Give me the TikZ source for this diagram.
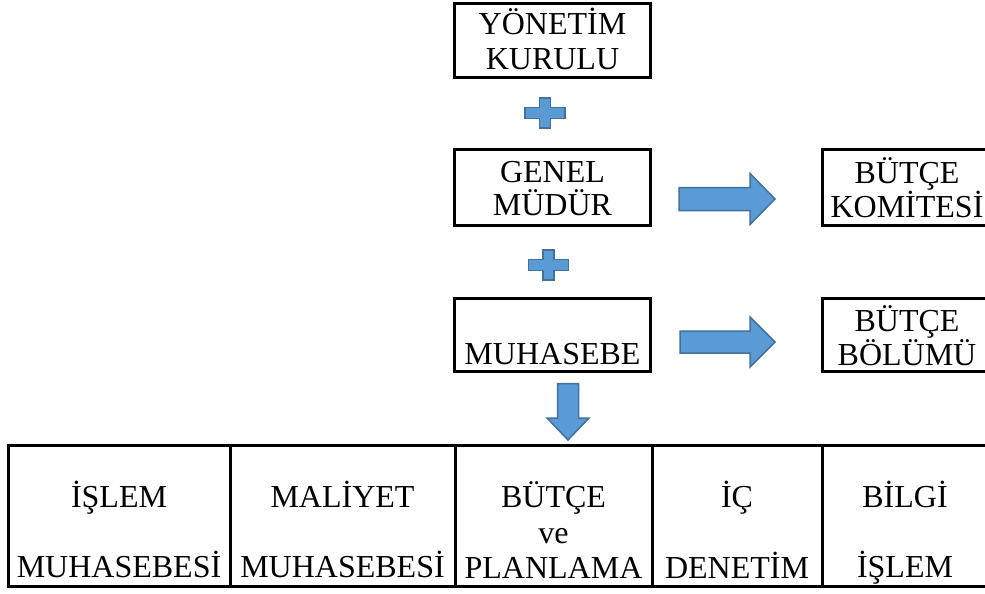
\documentclass[tikz,border=0pt]{standalone}
\usepackage{fontspec}
\setmainfont{Liberation Serif}
\definecolor{bfill}{HTML}{5B9BD5}
\definecolor{bline}{HTML}{41719C}
\tikzset{
  boxnode/.style={draw=black, line width=3pt, inner sep=0pt, fill=none},
  txt/.style={inner sep=0pt, anchor=base, font=\fontsize{32}{35}\selectfont},
  blueshape/.style={fill=bfill, draw=bline, line width=1.5pt, line join=miter},
}
\begin{document}
\begin{tikzpicture}[x=1pt, y=-1pt]
\useasboundingbox (0,0) rectangle (985,594);
\clip (0,0) rectangle (985,594);
\fill[white] (0,0) rectangle (985,594);

% boxes
\node[boxnode, minimum width=196pt, minimum height=74pt] (yk) at (552.5,40.5) {};
\node[boxnode, minimum width=196pt, minimum height=76pt] (gm) at (552.5,187.5) {};
\node[boxnode, minimum width=196pt, minimum height=73pt] (mu) at (552.5,335) {};
\node[boxnode, minimum width=175pt, minimum height=76pt] (bk) at (910,187.5) {};
\node[boxnode, minimum width=175pt, minimum height=73pt] (bb) at (910,335) {};

% box texts
\node[txt] (yk1) at (552.5,35) {YÖNETİM};
\node[txt] (yk2) at (552.5,70) {KURULU};
\node[txt] (gm1) at (552.5,182) {GENEL};
\node[txt] (gm2) at (552.5,215) {MÜDÜR};
\node[txt] (mu1) at (552.5,364) {MUHASEBE};
\node[txt] (bk1) at (907,183) {BÜTÇE};
\node[txt] (bk2) at (907,217) {KOMİTESİ};
\node[txt] (bb1) at (907,331) {BÜTÇE};
\node[txt] (bb2) at (907,365) {BÖLÜMÜ};

% plus shapes
\foreach \cx/\cy in {545/113, 548.5/265}{
  \draw[blueshape, shift={(\cx,\cy)}]
    (-20,-5.5) -- (-5.5,-5.5) -- (-5.5,-15) -- (5.5,-15) -- (5.5,-5.5) -- (20,-5.5)
    -- (20,5.5) -- (5.5,5.5) -- (5.5,15) -- (-5.5,15) -- (-5.5,5.5) -- (-20,5.5) -- cycle;
}

% right block arrows
\draw[blueshape] (679,187.5) -- (750,187.5) -- (750,173.5) -- (775,199) -- (750,224.5) -- (750,210.5) -- (679,210.5) -- cycle;
\draw[blueshape] (680,331) -- (750,331) -- (750,317) -- (775,342) -- (750,367) -- (750,353) -- (680,353) -- cycle;
% down block arrow
\draw[blueshape] (557.5,383.5) -- (578.5,383.5) -- (578.5,418) -- (589,418) -- (568,440) -- (547,418) -- (557.5,418) -- cycle;

% table cells
\node[boxnode, minimum width=221.5pt, minimum height=141pt] (c1) at (119.25,516) {};
\node[boxnode, minimum width=225pt, minimum height=141pt] (c2) at (342.5,516) {};
\node[boxnode, minimum width=197pt, minimum height=141pt] (c3) at (553.5,516) {};
\node[boxnode, minimum width=170pt, minimum height=141pt] (c4) at (737,516) {};
\node[boxnode, minimum width=170pt, minimum height=141pt] (c5) at (907,516) {};

% table texts
\node[txt] (c1a) at (119,507) {İŞLEM};
\node[txt] (c1b) at (119,577) {MUHASEBESİ};
\node[txt] (c2a) at (342.5,507) {MALİYET};
\node[txt] (c2b) at (342.5,577) {MUHASEBESİ};
\node[txt] (c3a) at (553.5,507) {BÜTÇE};
\node[txt] (c3b) at (553.5,543) {ve};
\node[txt] (c3c) at (553.5,578) {PLANLAMA};
\node[txt] (c4a) at (737,507) {İÇ};
\node[txt] (c4b) at (737,578) {DENETİM};
\node[txt] (c5a) at (905,507) {BİLGİ};
\node[txt] (c5b) at (905,577) {İŞLEM};
\end{tikzpicture}
\end{document}
